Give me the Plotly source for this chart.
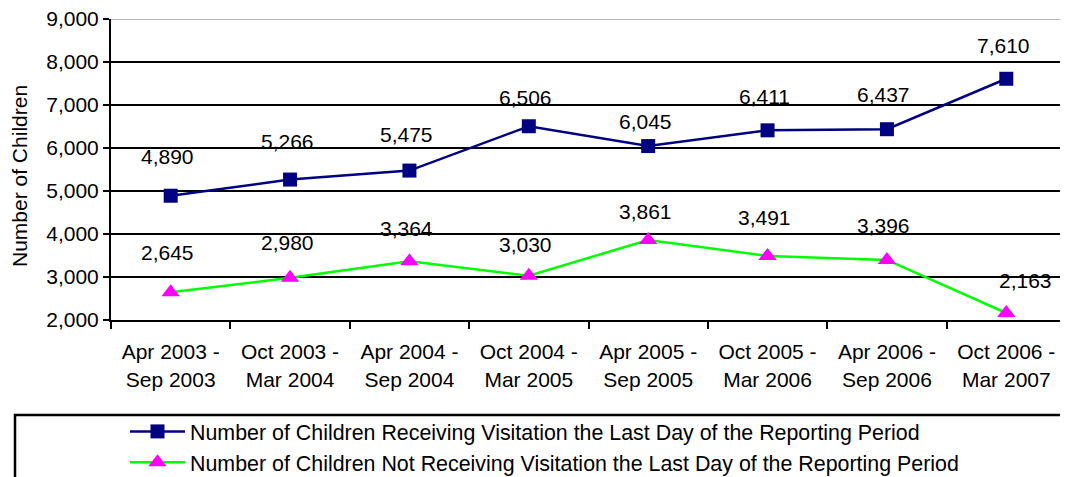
import plotly.graph_objects as go

categories = ["Apr 2003 -<br>Sep 2003", "Oct 2003 -<br>Mar 2004", "Apr 2004 -<br>Sep 2004",
              "Oct 2004 -<br>Mar 2005", "Apr 2005 -<br>Sep 2005", "Oct 2005 -<br>Mar 2006",
              "Apr 2006 -<br>Sep 2006", "Oct 2006 -<br>Mar 2007"]
receiving = [4890, 5266, 5475, 6506, 6045, 6411, 6437, 7610]
not_receiving = [2645, 2980, 3364, 3030, 3861, 3491, 3396, 2163]
name_receiving = "Number of Children Receiving Visitation the Last Day of the Reporting Period"
name_not = "Number of Children Not Receiving Visitation the Last Day of the Reporting Period"
y_ticks = [2000, 3000, 4000, 5000, 6000, 7000, 8000, 9000]
y_title = "Number of Children"

# label nudges (pixels) – styling only
dy_recv = [39, 38, 36, 29, 25, 34, 35, 33]
dy_not = [40, 35, 33, 31, 28, 38, 34, 32]
dx_not = [0, 0, 0, 0, 0, 0, 0, 22]

FONT = "Liberation Sans, Arial, sans-serif"
FS = 21

fig = go.Figure()
fig.add_trace(go.Scatter(
    x=categories, y=receiving, mode="lines+markers", name=name_receiving,
    line=dict(color="#000080", width=2.5),
    marker=dict(symbol="square", size=14, color="#000080"),
    legendgroup="a"))
fig.add_trace(go.Scatter(
    x=categories, y=not_receiving, mode="lines+markers", name=name_not,
    line=dict(color="#00FF00", width=2.5),
    marker=dict(symbol="triangle-up", size=16, color="#FF00FF"),
    legendgroup="b"))

# page body margin offset (default 8px)
OFF = 8
W, H = 1068 - OFF, 477 - OFF
L, R, T = 111 - OFF, 2, 19 - OFF
B = H - (320 - OFF)
pw = W - L - R
ph = H - T - B

def px_x(p):
    return (p - OFF - L) / pw

def px_y(p):
    return (H - B - (p - OFF)) / ph

annotations = []
for i, c in enumerate(categories):
    annotations.append(dict(x=c, y=receiving[i], text=f"{receiving[i]:,}", showarrow=False,
                            yshift=dy_recv[i], xshift=-3, font=dict(family=FONT, size=FS, color="black")))
    annotations.append(dict(x=c, y=not_receiving[i], text=f"{not_receiving[i]:,}", showarrow=False,
                            yshift=dy_not[i], xshift=dx_not[i] - 3, font=dict(family=FONT, size=FS, color="black")))
annotations.append(dict(xref="paper", yref="paper", x=px_x(19), y=px_y(176), text=y_title,
                        textangle=-90, showarrow=False, xanchor="center", yanchor="middle",
                        font=dict(family=FONT, size=FS, color="black")))

shapes = [
    # top gridline in grey (cover black)
    dict(type="line", xref="paper", yref="y", x0=0, x1=1, y0=9000, y1=9000,
         line=dict(color="white", width=3), layer="above"),
    dict(type="line", xref="paper", yref="y", x0=0, x1=1, y0=9000, y1=9000,
         line=dict(color="#A0A0A0", width=1.5), layer="above"),
    # legend box
    dict(type="rect", xref="paper", yref="paper", x0=px_x(15), x1=px_x(1075),
         y0=px_y(485), y1=px_y(415), line=dict(color="black", width=2.5),
         fillcolor="rgba(0,0,0,0)", layer="above"),
]

fig.update_layout(
    width=W, height=H,
    margin=dict(l=L, r=R, t=T, b=B, autoexpand=False),
    paper_bgcolor="white", plot_bgcolor="white",
    font=dict(family=FONT, size=FS, color="black"),
    showlegend=True,
    legend=dict(x=px_x(125), y=px_y(411), xanchor="left", yanchor="top",
                bgcolor="rgba(0,0,0,0)", borderwidth=0, font=dict(size=21.4),
                itemwidth=55, tracegroupgap=6, traceorder="normal"),
    annotations=annotations,
    shapes=shapes,
    xaxis=dict(type="category", range=[-0.5, 7.5], showgrid=False, automargin=False,
               showline=True, linecolor="black", linewidth=2,
               ticks="outside", tickson="boundaries", ticklen=7, tickwidth=2, tickcolor="black",
               tickfont=dict(size=FS), ticklabelstandoff=12, fixedrange=True),
    yaxis=dict(range=[2000, 9000], tickvals=y_ticks, tickformat=",", automargin=False,
               showgrid=True, gridcolor="black", gridwidth=2,
               showline=True, linecolor="black", linewidth=2,
               ticks="outside", ticklen=6, tickwidth=2, tickcolor="black",
               ticklabeloverflow="allow",
               tickfont=dict(size=FS), zeroline=False),
)

fig.write_html("out.html")
